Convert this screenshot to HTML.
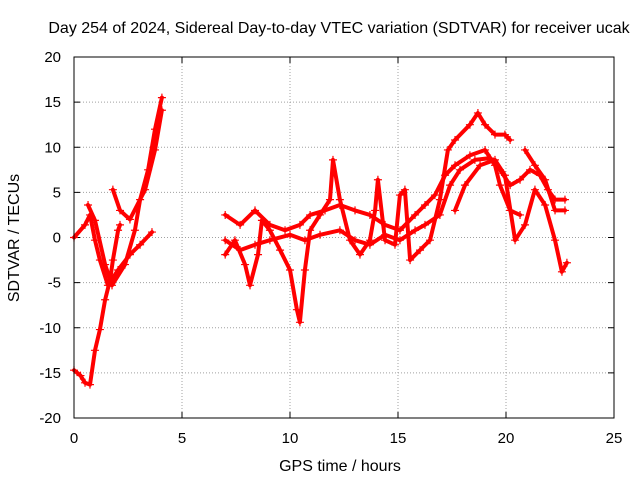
<!DOCTYPE html>
<html><head><meta charset="utf-8"><style>
html,body{margin:0;padding:0;background:#fff;}
svg{display:block;font-family:"Liberation Sans",sans-serif;}
</style></head><body>
<svg id="chart" width="640" height="480" viewBox="0 0 640 480" xmlns="http://www.w3.org/2000/svg">
<rect x="0" y="0" width="640" height="480" fill="#fff"/>
<text x="339" y="33" font-size="16" text-anchor="middle">Day 254 of 2024, Sidereal Day-to-day VTEC variation (SDTVAR) for receiver ucak</text>
<text transform="translate(19,238) rotate(-90)" font-size="16" text-anchor="middle">SDTVAR / TECUs</text>
<text x="340" y="471" font-size="16" text-anchor="middle">GPS time / hours</text>
<g id="grid"></g>
<g id="ticks"></g>
<g id="series"></g>
<rect x="74" y="57" width="540" height="361" fill="none" stroke="#000" stroke-width="1"/>
</svg>
<script>
const xTicks=[0,5,10,15,20,25];
const yTicks=[-20,-15,-10,-5,0,5,10,15,20];
// tracks: hours and values
const t1h=[0,0.3,0.51,0.74,0.97,1.2,1.44,1.67,1.8,2.04,2.13];
const t1v=[-14.7,-15.3,-16.1,-16.3,-12.5,-10.2,-6.9,-4.7,-2.5,0.8,1.4];
const t2h=[0,0.51,0.74,0.97,1.2,1.57,2.04,2.59,3.06,3.61];
const t2v=[0,1.4,2.5,-0.3,-2.5,-5.3,-3.6,-1.9,-0.8,0.6];
const t3h=[0.65,0.97,1.44,1.76,2.36,2.82,3.06,3.43,3.75,4.07];
const t3v=[3.6,1.9,-3,-5.3,-3,0.8,4.2,7.5,12,15.5];
const t4h=[1.8,2.13,2.59,3.29,3.75,4.07];
const t4v=[5.3,3,2,5.3,9.7,14.1];
const t5h=[7,7.45,7.92,8.15,8.52,8.7,9.07,9.54,10,10.32,10.46,10.69,10.93,11.39,11.85,11.99,12.31,12.78,13.24,13.7,13.94,14.07,14.4,14.86,15.09,15.32,15.56,16.02,16.48,16.94,17.31,17.64,18.33,18.7,19.03,19.49,19.95,20.19];
const t5v=[-1.9,-0.3,-3,-5.3,-1.9,1.9,0.8,-1.4,-3.6,-8,-9.4,-3.6,0.8,2.5,4.2,8.6,4.2,-0.3,-1.9,-0.3,3,6.4,-0.3,-0.8,4.7,5.3,-2.5,-1.4,-0.3,4.2,9.7,10.8,12.5,13.8,12.5,11.4,11.4,10.8];
const t6h=[7,7.69,8.38,9.07,9.77,10.46,10.93,11.62,12.31,13.01,13.7,14.4,15.09,15.79,16.25,16.71,17.18,17.64,18.33,19.03,19.49,19.72,20.19,20.65];
const t6v=[2.5,1.4,3,1.4,0.8,1.4,2.5,3,3.6,3,2.5,1.4,0.8,2.5,3.6,4.7,6.9,8,9.1,9.7,8,5.8,3,2.5];
const t7h=[7,7.69,8.38,9.07,10,10.69,11.39,12.31,13.01,13.7,14.4,15.09,15.79,16.25,16.94,17.41,17.87,18.56,19.26,19.72,20.19,20.65,21.11,21.57,21.94,22.27,22.73];
const t7v=[-0.3,-1.4,-0.8,-0.3,0.3,-0.3,0.3,0.8,-0.3,-0.8,0.3,-0.3,0.8,1.4,2.5,5.8,7.5,8.6,8.8,7.5,5.8,6.4,7.5,6.9,5.3,4.2,4.2];
const t8h=[17.64,18.1,18.8,19.49,19.95,20.42,20.88,21.34,21.81,22.27,22.59,22.82];
const t8v=[3,5.8,8,8.6,6.9,-0.3,1.4,5.3,3.6,-0.3,-3.8,-2.8];
const t9h=[20.88,21.34,21.81,22.27,22.73];
const t9v=[9.7,8,6.4,3,3];
const hours=[t1h,t2h,t3h,t4h,t5h,t6h,t7h,t8h,t9h];
const values=[t1v,t2v,t3v,t4v,t5v,t6v,t7v,t8v,t9v];

const X0=74,X1=614,Y0=418,Y1=57;
const xs=h=>X0+(h-0)/25*(X1-X0);
const ys=v=>Y0-(v+20)/40*(Y0-Y1);
const NS='http://www.w3.org/2000/svg';
const grid=document.getElementById('grid'),ticks=document.getElementById('ticks'),ser=document.getElementById('series');
function mk(tag,attrs,parent){const e=document.createElementNS(NS,tag);for(const k in attrs)e.setAttribute(k,attrs[k]);parent.appendChild(e);return e;}
xTicks.forEach(t=>{
  const x=xs(t);
  if(t>0&&t<25){const g=mk('line',{x1:x,y1:Y0,x2:x,y2:Y1,stroke:'#a0a0a0','stroke-dasharray':'1,2','stroke-width':1},grid);
  
  }
  mk('line',{x1:x,y1:Y0,x2:x,y2:Y0-6,stroke:'#000'},ticks);
  mk('line',{x1:x,y1:Y1,x2:x,y2:Y1+6,stroke:'#000'},ticks);
  const l=mk('text',{x:x,y:Y0+25,'font-size':15,'text-anchor':'middle'},ticks);l.textContent=t;
  
  
});
yTicks.forEach(t=>{
  const y=ys(t);
  if(t>-20&&t<20){const g=mk('line',{x1:X0,y1:y,x2:X1,y2:y,stroke:'#a0a0a0','stroke-dasharray':'1,2','stroke-width':1},grid);
  
  }
  mk('line',{x1:X0,y1:y,x2:X0+6,y2:y,stroke:'#000'},ticks);
  mk('line',{x1:X1,y1:y,x2:X1-6,y2:y,stroke:'#000'},ticks);
  const l=mk('text',{x:X0-13,y:y+5,'font-size':15,'text-anchor':'end'},ticks);l.textContent=t;
  
  
});
hours.forEach((hs,i)=>{
  const vs=values[i];
  const pts=hs.map((h,j)=>xs(h).toFixed(1)+','+ys(vs[j]).toFixed(1)).join(' ');
  const pl=mk('polyline',{points:pts,fill:'none',stroke:'#ff0000','stroke-width':4,'stroke-linejoin':'round','stroke-linecap':'round'},ser);
  
  
  hs.forEach((h,j)=>{
    const x=xs(h),y=ys(vs[j]);
    const p=mk('path',{d:`M${x-4},${y}H${x+4}M${x},${y-4}V${y+4}`,stroke:'#ff0000','stroke-width':1.2},ser);
    
    
  });
});
</script>
</body></html>
